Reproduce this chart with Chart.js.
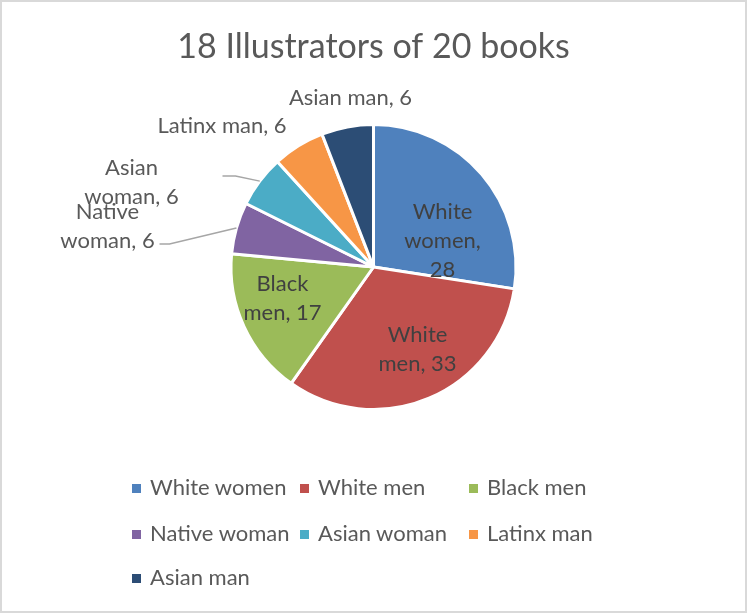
<!DOCTYPE html>
<html lang="en">
<head>
  <meta charset="UTF-8">
  <title>18 Illustrators of 20 books</title>
  <script src="https://cdn.jsdelivr.net/npm/chart.js"></script>
  <style>
    body { margin: 0; background: #fff; font-family: Lato, "Open Sans", sans-serif; }
    #wrap { position: relative; width: 747px; height: 613px; }
    #frame { position: absolute; left: 0; top: 0; width: 747px; height: 613px; box-sizing: border-box; border: 2px solid #d9d9d9; pointer-events: none; }
    #legend .item { position: absolute; height: 26px; line-height: 26px; font-size: 22px; color: #595959; white-space: nowrap; }
    #legend .box { display: inline-block; width: 9px; height: 9px; margin-right: 9px; vertical-align: middle; position: relative; top: -1px; }
  </style>
</head>
<body>
  <div id="wrap">
    <canvas id="chart"></canvas>
    <div id="legend"></div>
    <div id="frame"></div>
  </div>

  <script>
    const categories = ["White women", "White men", "Black men", "Native woman", "Asian woman", "Latinx man", "Asian man"];
    const counts = [28, 33, 17, 6, 6, 6, 6];
    const colors = ["#4f81bd", "#c0504d", "#9bbb59", "#8064a2", "#4bacc6", "#f79646", "#2c4d75"];

    // where each data label sits, relative to the pie centre (px)
    const labelOffsets = [[69, -26], [44, 82.5], [-91, 31.5], [-266, -40.5], [-242, -84.5], [-151.5, -141], [-23, -169]];
    const labelWrap = [85, 100, 100, 110, 110, 220, 220];
    const labelInside = [true, true, true, false, false, false, false];
    // leader lines: elbow and end, relative to centre
    const leaders = { 3: [[-204, -23], [-214, -23]], 4: [[-138, -91], [-151, -91]] };

    function wrapText(ctx, text, maxW) {
      const words = text.split(" ");
      const lines = [];
      let cur = "";
      words.forEach(w => {
        const t = cur ? cur + " " + w : w;
        if (cur && ctx.measureText(t).width > maxW) { lines.push(cur); cur = w; }
        else cur = t;
      });
      if (cur) lines.push(cur);
      return lines;
    }

    const sliceLabels = {
      id: "sliceLabels",
      afterDatasetsDraw(chart) {
        const ctx = chart.ctx;
        const meta = chart.getDatasetMeta(0);
        ctx.save();
        ctx.font = "22px Lato, 'Open Sans', sans-serif";
        ctx.textAlign = "center";
        ctx.textBaseline = "middle";
        meta.data.forEach((arc, i) => {
          const p = arc.getProps(["x", "y", "startAngle", "endAngle", "outerRadius"], true);
          const cx = p.x, cy = p.y;
          if (leaders[i]) {
            const mid = (p.startAngle + p.endAngle) / 2;
            const ex = cx + Math.cos(mid) * p.outerRadius;
            const ey = cy + Math.sin(mid) * p.outerRadius;
            ctx.strokeStyle = "#a6a6a6";
            ctx.lineWidth = 1.5;
            ctx.beginPath();
            ctx.moveTo(ex, ey);
            leaders[i].forEach(pt => ctx.lineTo(cx + pt[0], cy + pt[1]));
            ctx.stroke();
          }
          const text = categories[i] + ", " + counts[i];
          const lines = wrapText(ctx, text, labelWrap[i]);
          const lh = 29;
          const lx = cx + labelOffsets[i][0];
          const ly = cy + labelOffsets[i][1] - (lines.length - 1) * lh / 2;
          ctx.fillStyle = labelInside[i] ? "#404040" : "#595959";
          lines.forEach((l, k) => ctx.fillText(l, lx, ly + k * lh));
        });
        ctx.restore();
      }
    };

    const ctx = document.getElementById("chart").getContext("2d");
    const chart = new Chart(ctx, {
      type: "pie",
      data: {
        labels: categories,
        datasets: [{
          data: counts,
          backgroundColor: colors,
          borderColor: "#ffffff",
          borderWidth: 3,
          radius: 142.5
        }]
      },
      options: {
        responsive: true,
        maintainAspectRatio: false,
        animation: false,
        layout: { padding: { left: 0, right: 0, top: 0, bottom: 160.6 } },
        plugins: {
          legend: { display: false },
          tooltip: { enabled: false },
          title: {
            display: true,
            text: "18 Illustrators of 20 books",
            color: "#595959",
            font: { family: "Lato, 'Open Sans', sans-serif", size: 34, weight: "normal" },
            padding: { top: 26.6, bottom: 14.2 }
          }
        }
      },
      plugins: [sliceLabels]
    });

    // legend in a 3-column grid like the original
    const legendCols = [132, 300, 469];
    const legendRows = [487, 533, 577];
    const legendEl = document.getElementById("legend");
    categories.forEach((c, i) => {
      const item = document.createElement("div");
      item.className = "item";
      item.style.left = legendCols[i % 3] + "px";
      item.style.top = (legendRows[Math.floor(i / 3)] - 13) + "px";
      item.innerHTML = '<span class="box" style="background:' + colors[i] + '"></span>' + c;
      legendEl.appendChild(item);
    });
  </script>
</body>
</html>
